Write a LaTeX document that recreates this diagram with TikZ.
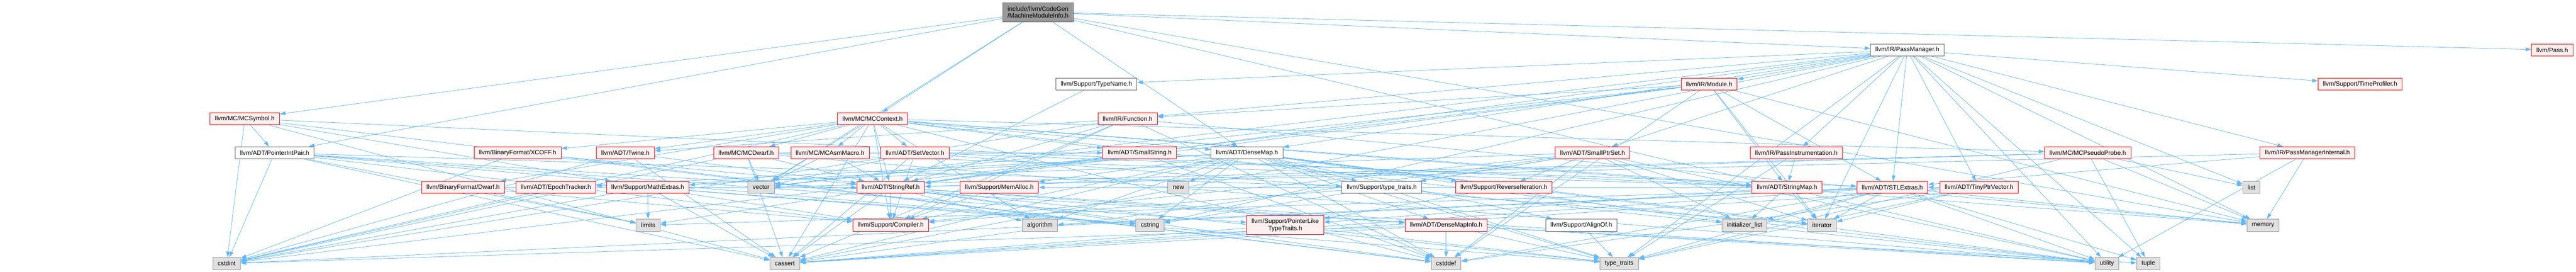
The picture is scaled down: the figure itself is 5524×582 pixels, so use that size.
\documentclass[tikz,border=0pt]{standalone}
\usepackage{fontspec}
\setmainfont{Liberation Sans}
\usetikzlibrary{arrows.meta}
\pgfdeclarelayer{background}
\pgfsetlayers{background,main}
\definecolor{EdgeBlue}{HTML}{63B8FF}
\definecolor{TruncLine}{HTML}{FF0000}
\definecolor{TruncFill}{HTML}{FFF0F0}
\definecolor{SysLine}{HTML}{999999}
\definecolor{SysFill}{HTML}{E0E0E0}
\definecolor{DocLine}{HTML}{666666}
\definecolor{RootFill}{HTML}{999999}

\begin{document}
\begin{tikzpicture}[x=1pt,y=-1pt]
  \tikzset{BoxStyle/.style = {rectangle,
      line width   = 1pt,
      inner xsep   = 10.5pt,
      inner ysep   = 0pt,
      minimum height = 26pt,
      font = \fontsize{13.3}{15}\selectfont},
    WhiteStyle/.style = {BoxStyle, draw=DocLine, fill=white},
    TruncStyle/.style = {BoxStyle, draw=TruncLine, fill=TruncFill},
    SysStyle/.style   = {BoxStyle, draw=SysLine, fill=SysFill},
    RootStyle/.style  = {BoxStyle, draw=DocLine, fill=RootFill, align=center, minimum height=41pt},
    EdgeStyle/.style  = {draw=EdgeBlue, line width=0.9pt, -{Triangle[length=12pt,width=8pt]}}}
  \path[use as bounding box] (0,0) rectangle (5524,582);

  \node[RootStyle]  (mmi)          at (2226,26)  {include/llvm/CodeGen\\/MachineModuleInfo.h};
  \node[WhiteStyle] (passmgr)      at (4090,107) {llvm/IR/PassManager.h};
  \node[TruncStyle] (pass)         at (5473,107) {llvm/Pass.h};
  \node[WhiteStyle] (typename)     at (2351,180) {llvm/Support/TypeName.h};
  \node[TruncStyle] (module)       at (3665,180) {llvm/IR/Module.h};
  \node[TruncStyle] (timeprof)     at (5061,180) {llvm/Support/TimeProfiler.h};
  \node[TruncStyle] (mcsymbol)     at (525,254)  {llvm/MC/MCSymbol.h};
  \node[TruncStyle] (mccontext)    at (1871,254) {llvm/MC/MCContext.h};
  \node[TruncStyle] (function)     at (2418,254) {llvm/IR/Function.h};
  \node[WhiteStyle] (ptrintpair)   at (589,327)  {llvm/ADT/PointerIntPair.h};
  \node[TruncStyle] (xcoff)        at (1110,327) {llvm/BinaryFormat/XCOFF.h};
  \node[TruncStyle] (twine)        at (1341,327) {llvm/ADT/Twine.h};
  \node[TruncStyle] (mcdwarf)      at (1600,327) {llvm/MC/MCDwarf.h};
  \node[TruncStyle] (asmmacro)     at (1780,327) {llvm/MC/MCAsmMacro.h};
  \node[TruncStyle] (setvector)    at (1962,327) {llvm/ADT/SetVector.h};
  \node[TruncStyle] (smallstring)  at (2444,327) {llvm/ADT/SmallString.h};
  \node[WhiteStyle] (densemap)     at (2674,327) {llvm/ADT/DenseMap.h};
  \node[TruncStyle] (smallptrset)  at (3415,327) {llvm/ADT/SmallPtrSet.h};
  \node[TruncStyle] (passinstr)    at (3852,327) {llvm/IR/PassInstrumentation.h};
  \node[TruncStyle] (pseudoprobe)  at (4477,327) {llvm/MC/MCPseudoProbe.h};
  \node[TruncStyle] (pminternal)   at (4948,327) {llvm/IR/PassManagerInternal.h};
  \node[TruncStyle] (dwarf)        at (993,401)  {llvm/BinaryFormat/Dwarf.h};
  \node[TruncStyle] (epoch)        at (1192,401) {llvm/ADT/EpochTracker.h};
  \node[TruncStyle] (mathextras)   at (1389,401) {llvm/Support/MathExtras.h};
  \node[SysStyle]   (vector)       at (1632,401) {vector};
  \node[TruncStyle] (stringref)    at (1910,401) {llvm/ADT/StringRef.h};
  \node[TruncStyle] (memalloc)     at (2143,401) {llvm/Support/MemAlloc.h};
  \node[SysStyle]   (new)          at (2527,401) {new};
  \node[WhiteStyle] (typetraitsh)  at (2963,401) {llvm/Support/type\_traits.h};
  \node[TruncStyle] (reverseit)    at (3225,401) {llvm/Support/ReverseIteration.h};
  \node[TruncStyle] (stringmap)    at (3832,401) {llvm/ADT/StringMap.h};
  \node[TruncStyle] (stlextras)    at (4058,401) {llvm/ADT/STLExtras.h};
  \node[TruncStyle] (tinyptr)      at (4244,401) {llvm/ADT/TinyPtrVector.h};
  \node[SysStyle]   (list)         at (4828,401) {list};
  \node[SysStyle]   (limits)       at (1390,482) {limits};
  \node[TruncStyle] (compiler)     at (1910,482) {llvm/Support/Compiler.h};
  \node[SysStyle]   (algorithm)    at (2230,482) {algorithm};
  \node[SysStyle]   (cstring)      at (2466,482) {cstring};
  \node[TruncStyle, align=center, minimum height=41pt] (ptrlike) at (2756,482) {llvm/Support/PointerLike\\TypeTraits.h};
  \node[TruncStyle] (densemapinfo) at (3101,482) {llvm/ADT/DenseMapInfo.h};
  \node[WhiteStyle] (alignof)      at (3391,482) {llvm/Support/AlignOf.h};
  \node[SysStyle]   (initlist)     at (3741,482) {initializer\_list};
  \node[SysStyle]   (iterator)     at (3907,482) {iterator};
  \node[SysStyle]   (memory)       at (4853,482) {memory};
  \node[SysStyle]   (cstdint)      at (486,564)  {cstdint};
  \node[SysStyle]   (cassert)      at (1683,564) {cassert};
  \node[SysStyle]   (cstddef)      at (3101,564) {cstddef};
  \node[SysStyle]   (typetraits)   at (3472,564) {type\_traits};
  \node[SysStyle]   (utility)      at (4518,564) {utility};
  \node[SysStyle]   (tuple)        at (4607,564) {tuple};

  \begin{pgfonlayer}{background}
    \foreach \src/\dsts in {
        mmi/{passmgr,pass,mccontext,mcsymbol,ptrintpair,densemap,memory,utility,vector},
        passmgr/{typename,module,timeprof,function,densemap,smallptrset,passinstr,pminternal,stringref,stlextras,tinyptr,cassert,cstring,iterator,list,memory,tuple,typetraits,utility,vector},
        module/{function,stringmap,stringref,stlextras,iterator,memory,cstddef,cstdint,vector},
        typename/{stringref},
        function/{stringref,twine,compiler,cassert,cstddef,cstdint,memory},
        mcsymbol/{ptrintpair,stringmap,mathextras,cassert,cstddef,cstdint},
        mccontext/{densemap,setvector,smallstring,stringmap,stringref,twine,dwarf,xcoff,asmmacro,mcdwarf,pseudoprobe,compiler,algorithm,cassert,cstddef,cstdint,memory,utility,vector},
        ptrintpair/{densemapinfo,compiler,ptrlike,typetraitsh,cassert,cstdint,cstring,limits},
        xcoff/{stringref,cstddef,cstdint},
        twine/{stringref,cassert,cstdint},
        mcdwarf/{stringmap,stringref,smallstring,cassert,cstdint,utility,vector},
        asmmacro/{stringref,vector},
        setvector/{stlextras,compiler,cassert,iterator,vector},
        smallstring/{stringref,cstddef},
        densemap/{densemapinfo,epoch,alignof,compiler,mathextras,memalloc,reverseit,typetraitsh,algorithm,cassert,cstddef,cstring,initlist,iterator,new,typetraits,utility},
        smallptrset/{epoch,compiler,reverseit,typetraitsh,cassert,cstddef,cstring,initlist,iterator,utility},
        passinstr/{stringmap,typetraits},
        pseudoprobe/{stringref,list,memory,tuple,typetraits,vector},
        pminternal/{stlextras,stringref,memory,utility},
        dwarf/{stringref,compiler,limits},
        epoch/{cstdint},
        mathextras/{compiler,cassert,cstdint,cstring,limits,typetraits},
        stringref/{densemapinfo,compiler,algorithm,cassert,cstddef,cstring,limits,typetraits,utility},
        memalloc/{compiler},
        typetraitsh/{compiler,typetraits,utility},
        reverseit/{ptrlike},
        stringmap/{iterator,initlist,memalloc,ptrlike},
        stlextras/{algorithm,cassert,cstddef,cstdint,initlist,iterator,limits,memory,tuple,typetraits,utility},
        tinyptr/{stlextras,cassert,cstddef,iterator,typetraits},
        ptrlike/{cassert,typetraits},
        densemapinfo/{cassert,cstddef,cstdint,tuple,typetraits,utility},
        alignof/{typetraits}}
      \foreach \dst in \dsts
        \draw[EdgeStyle] (\src) -- (\dst);
  \end{pgfonlayer}
\end{tikzpicture}
\end{document}
